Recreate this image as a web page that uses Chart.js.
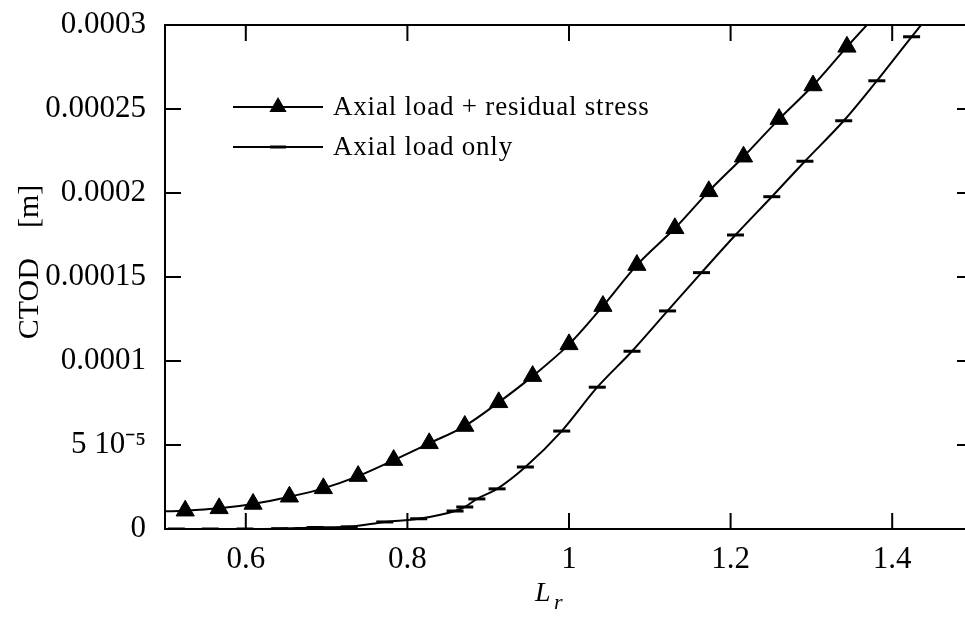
<!DOCTYPE html>
<html>
<head>
<meta charset="utf-8">
<script src="https://cdn.jsdelivr.net/npm/chart.js@4.4.0/dist/chart.umd.min.js"></script>
<style>
    html, body { margin: 0; padding: 0; background: #fff; overflow: hidden; }
    #wrap { width: 985px; height: 632px; }
</style>
</head>
<body>
<div id="wrap"><canvas id="ctod-chart" width="985" height="632"></canvas></div>
<script>
// values
const seriesNames = ['Axial load + residual stress', 'Axial load only'];

const lrResidual = [0.50, 0.525, 0.567, 0.609, 0.654, 0.696, 0.739, 0.783, 0.827, 0.871, 0.913,
    0.955, 1.000, 1.042, 1.084, 1.131, 1.173, 1.216, 1.260, 1.302, 1.344, 1.386];
const ctodResidual = [1.05e-5, 1.09e-5, 1.23e-5, 1.49e-5, 1.92e-5, 2.42e-5, 3.15e-5, 4.10e-5, 5.10e-5,
    6.13e-5, 7.54e-5, 9.10e-5, 1.099e-4, 1.327e-4, 1.571e-4, 1.790e-4, 2.010e-4, 2.216e-4, 2.440e-4,
    2.640e-4, 2.870e-4, 3.09e-4];

const lrAxial = [0.50, 0.514, 0.556, 0.599, 0.642, 0.686, 0.728, 0.772, 0.814, 0.859, 0.871, 0.886,
    0.911, 0.946, 0.991, 1.035, 1.078, 1.122, 1.164, 1.206, 1.251, 1.292, 1.340, 1.381, 1.424, 1.466];
const ctodAxial = [0, 0, 0, 0, 0.2e-6, 0.9e-6, 1.3e-6, 4.2e-6, 6.1e-6, 1.07e-5, 1.31e-5, 1.79e-5,
    2.39e-5, 3.69e-5, 5.83e-5, 8.44e-5, 1.058e-4, 1.298e-4, 1.526e-4, 1.75e-4, 1.978e-4, 2.189e-4,
    2.43e-4, 2.668e-4, 2.93e-4, 3.18e-4];

const xTicks = [0.6, 0.8, 1, 1.2, 1.4];
const xTickLabels = ['0.6', '0.8', '1', '1.2', '1.4'];
const yTicks = [0, 0.00005, 0.0001, 0.00015, 0.0002, 0.00025, 0.0003];
const yTickLabels = ['0', '5 10\u207B\u2075', '0.0001', '0.00015', '0.0002', '0.00025', '0.0003'];

const serif = '"Liberation Serif", "Times New Roman", serif';

function toPoints(xs, ys) {
    return xs.map((x, i) => ({x: x, y: ys[i]}));
}

function labelFor(values, labels, v) {
    const i = values.findIndex(t => Math.abs(t - v) < 1e-9);
    return i >= 0 ? labels[i] : '';
}

// frame, inward ticks, legend and axis titles
const framePlugin = {
    id: 'frame',
    afterDraw(chart) {
        const ctx = chart.ctx;
        const a = chart.chartArea;
        const xs = chart.scales.x;
        const ys = chart.scales.y;
        const tl = 16;
        ctx.save();
        ctx.strokeStyle = '#000';
        ctx.lineWidth = 2;
        ctx.strokeRect(a.left, a.top, a.right - a.left, a.bottom - a.top);
        ctx.beginPath();
        xTicks.forEach(v => {
            const px = xs.getPixelForValue(v);
            ctx.moveTo(px, a.bottom); ctx.lineTo(px, a.bottom - tl);
            ctx.moveTo(px, a.top); ctx.lineTo(px, a.top + tl);
        });
        yTicks.forEach(v => {
            const py = ys.getPixelForValue(v);
            ctx.moveTo(a.left, py); ctx.lineTo(a.left + tl, py);
            ctx.moveTo(a.right, py); ctx.lineTo(a.right - tl, py);
        });
        ctx.stroke();

        // legend
        ctx.fillStyle = '#000';
        ctx.font = '27px ' + serif;
        if ('letterSpacing' in ctx) ctx.letterSpacing = '0.8px';
        const lx0 = a.left + 68, lx1 = a.left + 158;
        chart.data.datasets.forEach((ds, i) => {
            const ly = a.top + 82 + i * 40;
            ctx.lineWidth = 2;
            ctx.beginPath();
            ctx.moveTo(lx0, ly); ctx.lineTo(lx1, ly);
            ctx.stroke();
            const cx = (lx0 + lx1) / 2;
            if (ds.pointStyle === 'triangle') {
                const r = 10;
                ctx.beginPath();
                ctx.moveTo(cx, ly - r);
                ctx.lineTo(cx + r * Math.sin(2 * Math.PI / 3), ly + r / 2);
                ctx.lineTo(cx - r * Math.sin(2 * Math.PI / 3), ly + r / 2);
                ctx.closePath();
                ctx.fill();
            } else {
                ctx.lineWidth = 3;
                ctx.beginPath();
                ctx.moveTo(cx - 8, ly); ctx.lineTo(cx + 8, ly);
                ctx.stroke();
            }
            ctx.textAlign = 'left';
            ctx.textBaseline = 'alphabetic';
            ctx.fillText(ds.label, a.left + 168, ly + 8);
        });
        if ('letterSpacing' in ctx) ctx.letterSpacing = '0px';

        // x title: L with subscript r
        ctx.textAlign = 'left';
        ctx.textBaseline = 'alphabetic';
        ctx.font = 'italic 28px ' + serif;
        ctx.fillText('L', a.left + 370, a.bottom + 72);
        ctx.font = 'italic 22px ' + serif;
        ctx.fillText('r', a.left + 389, a.bottom + 80);

        // y title
        ctx.translate(30, a.top + 237);
        ctx.rotate(-Math.PI / 2);
        ctx.textAlign = 'center';
        ctx.textBaseline = 'middle';
        ctx.font = '30px ' + serif;
        ctx.fillText('CTOD    [m]', 0, 0);
        ctx.restore();
    }
};

window.onload = () => {
    const context = document.getElementById('ctod-chart').getContext('2d');
    const chart = new Chart(context, {
        type: 'scatter',
        data: {
            datasets: [{
                label: seriesNames[0],
                data: toPoints(lrResidual, ctodResidual),
                showLine: true,
                borderColor: '#000',
                backgroundColor: '#000',
                borderWidth: 2,
                cubicInterpolationMode: 'monotone',
                pointStyle: 'triangle',
                pointRadius: (c) => c.dataIndex === 0 ? 0 : 10.5,
                pointBorderWidth: 1,
                pointBorderColor: '#000',
                pointBackgroundColor: '#000'
            }, {
                label: seriesNames[1],
                data: toPoints(lrAxial, ctodAxial),
                showLine: true,
                borderColor: '#000',
                backgroundColor: '#000',
                borderWidth: 2,
                cubicInterpolationMode: 'monotone',
                pointStyle: 'line',
                pointRadius: (c) => c.dataIndex === 0 ? 0 : 8.5,
                pointBorderWidth: 3,
                pointBorderColor: '#000'
            }]
        },
        options: {
            responsive: false,
            animation: false,
            devicePixelRatio: 1,
            layout: {padding: {left: 0, right: 12, top: 25, bottom: 0}},
            plugins: {
                legend: {display: false},
                tooltip: {enabled: false}
            },
            scales: {
                x: {
                    type: 'linear',
                    min: 0.5,
                    max: 1.5,
                    afterBuildTicks: (axis) => { axis.ticks = xTicks.map(v => ({value: v})); },
                    afterFit: (axis) => {
                        axis.height = 103;
                        axis.paddingLeft = 0;
                        axis.paddingRight = 0;
                    },
                    grid: {display: false, drawTicks: false},
                    border: {display: false},
                    ticks: {
                        color: '#000',
                        padding: 12,
                        maxRotation: 0,
                        font: {family: serif, size: 31},
                        callback: (v) => labelFor(xTicks, xTickLabels, v)
                    }
                },
                y: {
                    type: 'linear',
                    min: 0,
                    max: 0.0003,
                    afterBuildTicks: (axis) => { axis.ticks = yTicks.map(v => ({value: v})); },
                    afterFit: (axis) => {
                        axis.width = 165;
                        axis.paddingTop = 0;
                        axis.paddingBottom = 0;
                    },
                    grid: {display: false, drawTicks: false},
                    border: {display: false},
                    ticks: {
                        color: '#000',
                        padding: 19,
                        font: {family: serif, size: 31},
                        callback: (v) => labelFor(yTicks, yTickLabels, v)
                    }
                }
            }
        },
        plugins: [framePlugin]
    });
};
</script>
</body>
</html>
